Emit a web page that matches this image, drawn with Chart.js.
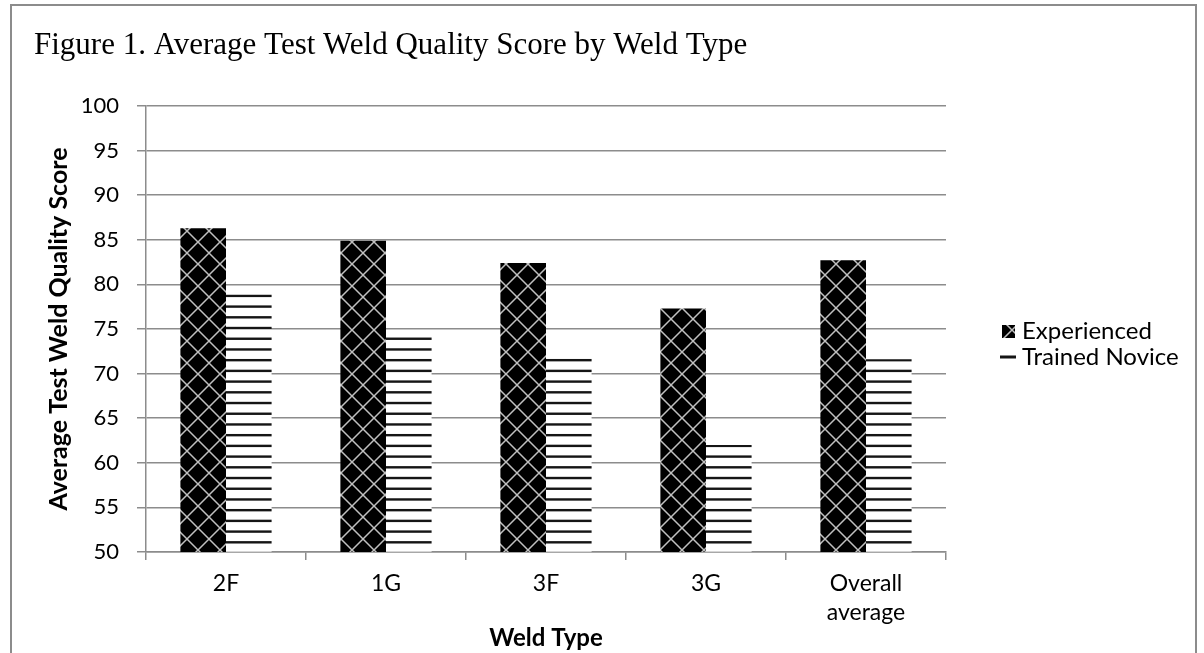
<!DOCTYPE html>
<html><head><meta charset="utf-8">
<script src="https://cdn.jsdelivr.net/npm/chart.js@4.4.1/dist/chart.umd.min.js"></script>
<style>html,body{margin:0;padding:0;background:#fff;}#wrap{width:1204px;height:653px;}</style>
</head><body><div id="wrap"><canvas id="c" width="1204" height="653"></canvas></div>
<script>
const categories = ['2F', '1G', '3F', '3G', ['Overall', 'average']];
const seriesNames = ['Experienced', 'Trained Novice'];
const experienced = [86.3, 84.9, 82.4, 77.3, 82.7];
const trainedNovice = [78.9, 74.1, 71.8, 62.0, 71.6];
const yMin = 50, yMax = 100, yStep = 5;

const SANS = 'Lato, "Open Sans", sans-serif';
const GRID = '#8c8c8c';

function diamondPattern() {
  const s = 22;
  const c = document.createElement('canvas'); c.width = s; c.height = s;
  const g = c.getContext('2d');
  g.fillStyle = '#000'; g.fillRect(0, 0, s, s);
  g.strokeStyle = '#c0c0c0'; g.lineWidth = 1.5;
  g.beginPath();
  for (let k = -1; k <= 1; k++) {
    g.moveTo(k * s, 0); g.lineTo(k * s + s, s);
    g.moveTo(k * s + s, 0); g.lineTo(k * s, s);
  }
  g.stroke();
  return g.createPattern(c, 'repeat');
}
function stripePattern() {
  const h = 75, n = 7;
  const c = document.createElement('canvas'); c.width = 4; c.height = h;
  const g = c.getContext('2d');
  g.fillStyle = '#fff'; g.fillRect(0, 0, 4, h);
  g.fillStyle = '#151515';
  for (let k = 0; k < n; k++) { const y = 6.6 + k * h / n; g.fillRect(0, y - 1.2, 4, 2.4); }
  return g.createPattern(c, 'repeat');
}
const pExp = diamondPattern();
const pNov = stripePattern();

const frame = {
  id: 'frame',
  beforeDraw(chart) {
    const ctx = chart.ctx;
    ctx.save();
    ctx.fillStyle = '#fff'; ctx.fillRect(0, 0, chart.width, chart.height);
    ctx.strokeStyle = '#8c8c8c'; ctx.lineWidth = 2;
    ctx.strokeRect(11, 5, 1185, 720);
    ctx.restore();
  }
};
const sideLegend = {
  id: 'sideLegend',
  afterDraw(chart) {
    const ctx = chart.ctx;
    const x0 = chart.chartArea.right + 54;
    const ys = [331, 357];
    ctx.save();
    ctx.font = '24px ' + SANS; ctx.textBaseline = 'middle'; ctx.textAlign = 'left';
    chart.data.datasets.forEach((ds, i) => {
      const y = ys[i];
      if (i === 0) {
        ctx.fillStyle = ds.backgroundColor; ctx.fillRect(x0 + 2, y - 6, 13, 13);
      } else {
        ctx.fillStyle = '#151515'; ctx.fillRect(x0, y - 1.5, 16, 3);
      }
      ctx.fillStyle = '#000';
      ctx.fillText(ds.label, x0 + 22, y);
    });
    ctx.restore();
  }
};

new Chart(document.getElementById('c'), {
  type: 'bar',
  data: {
    labels: categories,
    datasets: [
      { label: seriesNames[0], data: experienced, backgroundColor: pExp, borderWidth: 0 },
      { label: seriesNames[1], data: trainedNovice, backgroundColor: pNov, borderWidth: 0 }
    ]
  },
  options: {
    responsive: false, animation: false, devicePixelRatio: 1,
    categoryPercentage: 0.57, barPercentage: 1.0,
    layout: { padding: { left: 34, right: 258, top: 0, bottom: 0 } },
    plugins: {
      legend: { display: false },
      tooltip: { enabled: false },
      title: {
        display: true, text: 'Figure 1. Average Test Weld Quality Score by Weld Type',
        align: 'start', color: '#000',
        font: { family: '"Liberation Serif", "Times New Roman", serif', size: 31, weight: 'normal', lineHeight: 1.2 },
        padding: { top: 26.8, bottom: 42.0 }
      }
    },
    scales: {
      x: {
        grid: { display: true, drawOnChartArea: false, offset: true, color: GRID, lineWidth: 1.5, tickLength: 8 },
        border: { display: true, color: GRID, width: 1.5 },
        ticks: { color: '#000', font: { family: SANS, size: 23, lineHeight: 1.25 }, padding: 9, maxRotation: 0 },
        title: { display: true, text: 'Weld Type', color: '#000', font: { family: SANS, size: 24, weight: 'bold', lineHeight: 1.2 }, padding: { top: 0, bottom: 0 } },
        afterFit(s) { s.height = 101; }
      },
      y: {
        min: yMin, max: yMax,
        ticks: { stepSize: yStep, color: '#000', font: { family: SANS, size: 22 }, padding: 18 },
        grid: { color: GRID, lineWidth: 1.5, tickLength: 9 },
        border: { display: true, color: GRID, width: 1.5 },
        title: { display: true, text: 'Average Test Weld Quality Score', color: '#000', font: { family: SANS, size: 25, weight: 'bold' }, padding: { top: 10, bottom: 0 } },
        afterFit(s) { s.width = 112; }
      }
    }
  },
  plugins: [frame, sideLegend]
});
</script></body></html>
